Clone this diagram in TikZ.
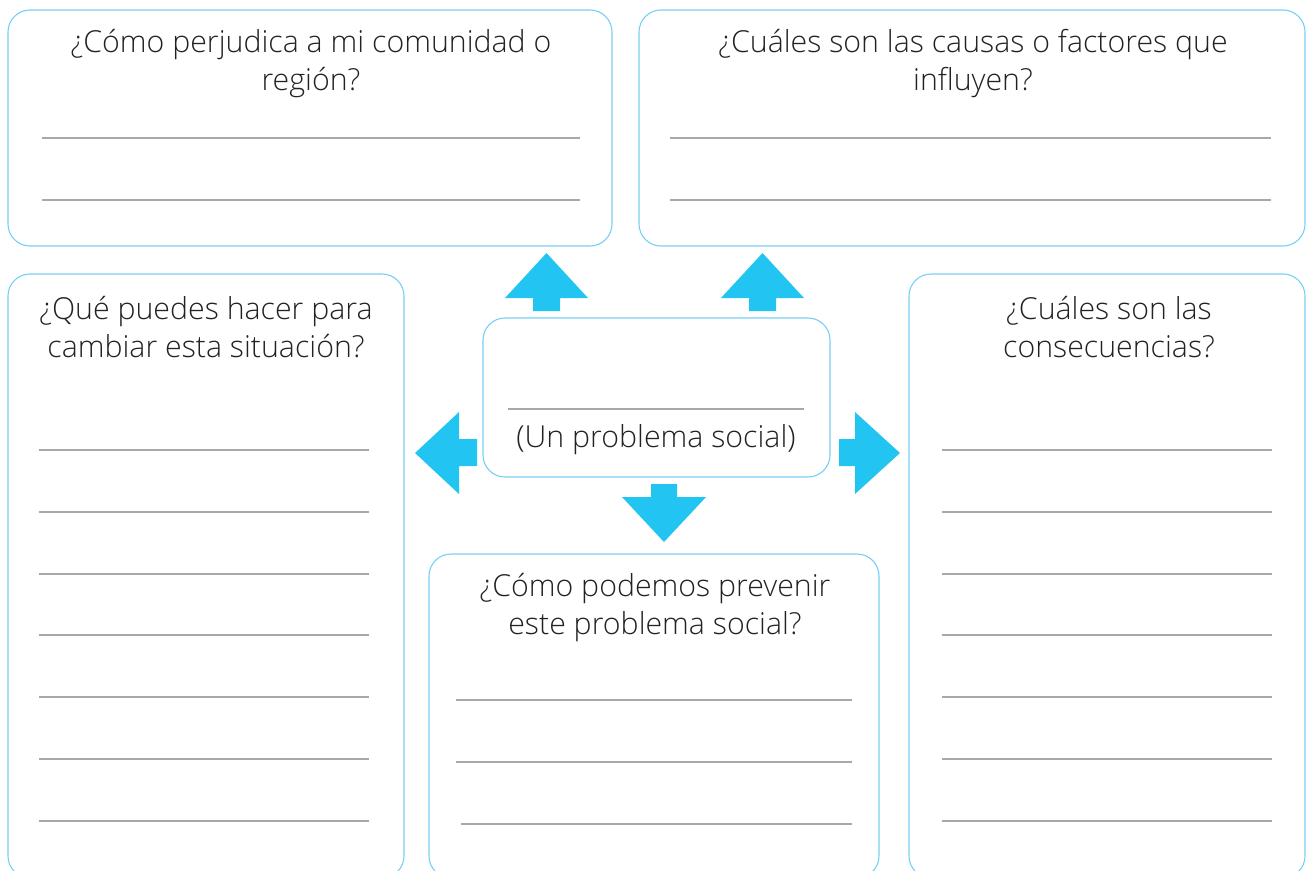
\documentclass[tikz,border=0pt]{standalone}
\usepackage{fontspec}
\setmainfont{Open Sans}[UprightFont=* Light]
\definecolor{boxblue}{HTML}{74D0F4}
\definecolor{arrowblue}{HTML}{22C4F2}
\definecolor{linegray}{HTML}{A8A8A8}
\definecolor{txt}{HTML}{222222}
\tikzset{
  panel/.style={draw=boxblue, line width=1.1pt, rounded corners=22pt},
  wline/.style={draw=linegray, line width=1.2pt},
  barrow/.style={fill=arrowblue, draw=none},
  qtext/.style={font=\fontsize{30.3}{38}\selectfont, text=txt, align=center, inner sep=0pt}
}
\begin{document}
\begin{tikzpicture}[x=1pt,y=-1pt]
\useasboundingbox (0,0) rectangle (1308,870);
\begin{scope}
\clip (0,0) rectangle (1308,870);
% panels
\draw[panel] (8,10) rectangle (612,246);
\draw[panel] (639,10) rectangle (1305,246);
\draw[panel] (8,274) rectangle (404,878);
\draw[panel] (909,274) rectangle (1305,878);
\draw[panel] (429,554) rectangle (879,878);
\draw[panel] (483,318) rectangle (830,477);
\end{scope}
% writing lines
\foreach \y in {138,200} {
  \draw[wline] (42,\y) -- (580,\y);
  \draw[wline] (670,\y) -- (1271,\y);
}
\foreach \y in {450,512,574,635,697,759,821} {
  \draw[wline] (39,\y) -- (369,\y);
  \draw[wline] (942,\y) -- (1272,\y);
}
\draw[wline] (456,700) -- (852,700);
\draw[wline] (456,762) -- (852,762);
\draw[wline] (461,824) -- (852,824);
\draw[wline] (508,409) -- (804,409);
% block arrows
\fill[barrow] (533,311) -- (533,298) -- (505,298) -- (546.5,253) -- (588,298) -- (560,298) -- (560,311) -- cycle;
\fill[barrow] (749,311) -- (749,298) -- (721,298) -- (762.5,253) -- (804,298) -- (776,298) -- (776,311) -- cycle;
\fill[barrow] (477,439) -- (459,439) -- (459,412) -- (415,453) -- (459,494) -- (459,466) -- (477,466) -- cycle;
\fill[barrow] (839,439) -- (855,439) -- (855,412) -- (900,453) -- (855,494) -- (855,466) -- (839,466) -- cycle;
\fill[barrow] (651,484) -- (677,484) -- (677,497) -- (706,497) -- (664,542) -- (622,497) -- (651,497) -- cycle;
% texts
\node[qtext] (ta) at (311,64) {¿Cómo perjudica a mi comunidad o\\región?};
\node[qtext] (tb) at (973,64) {¿Cuáles son las causas o factores que\\influyen?};
\node[qtext] (tc) at (206,327) {¿Qué puedes hacer para\\cambiar esta situación?};
\node[qtext] (td) at (1109,327) {¿Cuáles son las\\consecuencias?};
\node[qtext] (te) at (655,608) {¿Cómo podemos prevenir\\este problema social?};
\node[qtext] (tm) at (656,440) {(Un problema social)};
\end{tikzpicture}
\end{document}
